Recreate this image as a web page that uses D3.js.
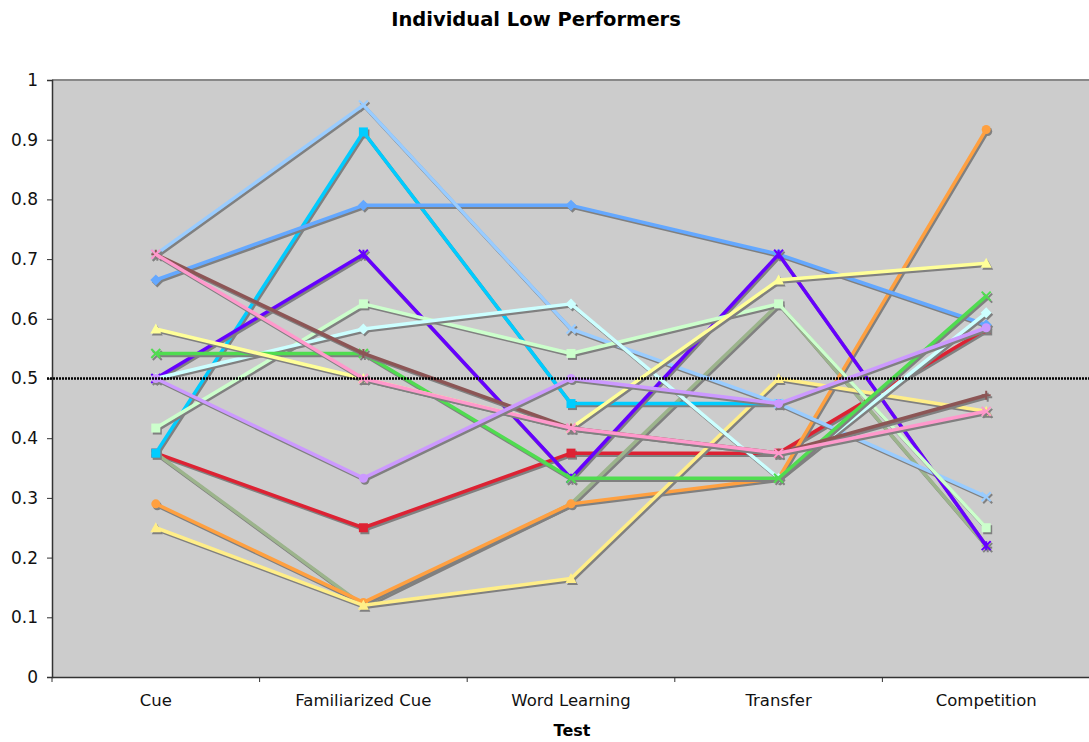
<!DOCTYPE html>
<html><head><meta charset="utf-8">
<script src="https://cdn.jsdelivr.net/npm/d3@7"></script>
<style>body{margin:0;background:#fff;}svg{display:block;}</style>
</head><body>
<svg id="chart" width="1089" height="742"></svg>
<script>
const categories = ["Cue","Familiarized Cue","Word Learning","Transfer","Competition"];
const yTicks = [0,0.1,0.2,0.3,0.4,0.5,0.6,0.7,0.8,0.9,1];
const title = "Individual Low Performers";
const xTitle = "Test";
const chance = 0.5;

// series values (drawn in this order)
const sRed      = [0.375,0.25,0.375,0.375,0.583];
const sSage     = [0.375,0.12,0.29,0.625,0.22];
const sOrange   = [0.29,0.125,0.29,0.333,0.917];
const sYellow2  = [0.25,0.12,0.165,0.5,0.445];
const sCyan     = [0.375,0.913,0.458,0.458,null];
const sBlue     = [0.665,0.79,0.79,0.708,0.59];
const sLightBlue= [0.708,0.958,0.583,0.458,0.302];
const sPurple   = [0.5,0.708,0.333,0.708,0.22];
const sLightGrn = [0.417,0.625,0.542,0.625,0.25];
const sPaleCyan = [0.5,0.583,0.625,0.333,0.61];
const sGreen    = [0.542,0.542,0.333,0.333,0.638];
const sYellow   = [0.583,0.5,0.417,0.665,0.693];
const sBrown    = [0.708,0.542,0.417,0.375,0.472];
const sPink     = [0.708,0.5,0.417,0.375,0.445];
const sLavender = [0.5,0.333,0.5,0.458,0.585];

const series = [
  {v:sRed, c:"#dd2233", m:"square"},
  {v:sSage, c:"#9cb48c", m:"bar"},
  {v:sOrange, c:"#ffa040", m:"circle"},
  {v:sYellow2, c:"#ffee88", m:"triangle"},
  {v:sCyan, c:"#00ccff", m:"square"},
  {v:sBlue, c:"#64a8ff", m:"diamond"},
  {v:sLightBlue, c:"#99ccff", m:"x"},
  {v:sPurple, c:"#6600ff", m:"star"},
  {v:sLightGrn, c:"#ccffcc", m:"square"},
  {v:sPaleCyan, c:"#ccffff", m:"diamond"},
  {v:sGreen, c:"#50dc50", m:"x"},
  {v:sYellow, c:"#ffff99", m:"triangle"},
  {v:sBrown, c:"#8c5555", m:"plus"},
  {v:sPink, c:"#ff99cc", m:"x"},
  {v:sLavender, c:"#cc99ff", m:"circle"}
];

const svg = d3.select("#chart");
const L = 52, R = 1090, T = 80, B = 677;
const x = d3.scaleBand().domain(categories).range([L,R]);
const y = d3.scaleLinear().domain([0,1]).range([B,T]);
const font = "DejaVu Sans, Verdana, sans-serif";

svg.append("text").attr("x",536).attr("y",26).attr("text-anchor","middle")
  .attr("font-family",font).attr("font-weight","bold").attr("font-size",19.5)
  .text(title);

svg.append("rect").attr("x",L).attr("y",T).attr("width",R-L).attr("height",B-T).attr("fill","#cccccc");
svg.append("line").attr("x1",L).attr("x2",R).attr("y1",T).attr("y2",T).attr("stroke","#888").attr("stroke-width",2);

const ya = svg.append("g").attr("transform",`translate(${L},0)`)
  .call(d3.axisLeft(y).tickValues(yTicks).tickSize(5).tickPadding(9).tickFormat(d=>String(+d.toFixed(1))));
ya.select(".domain").attr("stroke","#333").attr("stroke-width",1.5);
ya.selectAll(".tick line").attr("stroke","#333");
ya.selectAll("text").attr("font-family",font).attr("font-size",17).attr("fill","#111");

const xa = svg.append("g").attr("transform",`translate(0,${B})`)
  .call(d3.axisBottom(x).tickSize(0).tickPadding(17));
xa.select(".domain").attr("stroke","#333").attr("stroke-width",1.5);
xa.selectAll("text").attr("font-family",font).attr("font-size",16.5).attr("fill","#111");
// boundary ticks
const bounds = categories.map(c=>x(c)).concat([R]);
svg.append("g").selectAll("line").data(bounds).join("line")
  .attr("x1",d=>d).attr("x2",d=>d).attr("y1",B).attr("y2",B+5).attr("stroke","#333");

svg.append("text").attr("x",572).attr("y",736).attr("text-anchor","middle")
  .attr("font-family",font).attr("font-weight","bold").attr("font-size",16).text(xTitle);

const cx = c => x(c) + x.bandwidth()/2;
const line = d3.line().defined(d=>d.v!=null).x(d=>cx(d.c)).y(d=>y(d.v));

function marker(g, type, px, py, col){
  const s = 4.5;
  if(type==="square") g.append("rect").attr("x",px-s).attr("y",py-s).attr("width",2*s).attr("height",2*s).attr("fill",col);
  else if(type==="circle") g.append("circle").attr("cx",px).attr("cy",py).attr("r",s).attr("fill",col);
  else if(type==="diamond") g.append("path").attr("d",`M${px},${py-s-1}L${px+s+1},${py}L${px},${py+s+1}L${px-s-1},${py}Z`).attr("fill",col);
  else if(type==="triangle") g.append("path").attr("d",`M${px},${py-s-1}L${px+s+1},${py+s}L${px-s-1},${py+s}Z`).attr("fill",col);
  else if(type==="x") g.append("path").attr("d",`M${px-s},${py-s}L${px+s},${py+s}M${px-s},${py+s}L${px+s},${py-s}`).attr("stroke",col).attr("stroke-width",2);
  else if(type==="star") g.append("path").attr("d",`M${px-s},${py-s}L${px+s},${py+s}M${px-s},${py+s}L${px+s},${py-s}M${px},${py-s}L${px},${py+s}`).attr("stroke",col).attr("stroke-width",2);
  else if(type==="plus") g.append("path").attr("d",`M${px-s},${py}L${px+s},${py}M${px},${py-s}L${px},${py+s}`).attr("stroke",col).attr("stroke-width",2);
  else if(type==="bar") g.append("path").attr("d",`M${px-s},${py}L${px+s},${py}`).attr("stroke",col).attr("stroke-width",2);
}

const plot = svg.append("g");
series.forEach(s=>{
  const pts = categories.map((c,i)=>({c, v:s.v[i]}));
  const g = plot.append("g");
  const sh = g.append("g").attr("transform","translate(1.5,2)");
  sh.append("path").datum(pts).attr("d",line).attr("fill","none").attr("stroke","#808080").attr("stroke-width",3.5).attr("stroke-linejoin","round");
  pts.filter(p=>p.v!=null).forEach(p=>marker(sh, s.m, cx(p.c), y(p.v), "#808080"));
  g.append("path").datum(pts).attr("d",line).attr("fill","none").attr("stroke",s.c).attr("stroke-width",3.5).attr("stroke-linejoin","round");
  pts.filter(p=>p.v!=null).forEach(p=>marker(g, s.m, cx(p.c), y(p.v), s.c));
});

svg.append("line").attr("x1",L-5).attr("x2",R).attr("y1",y(chance)).attr("y2",y(chance))
  .attr("stroke","#000").attr("stroke-width",2.5).attr("stroke-dasharray","2,1");
</script>
</body></html>
